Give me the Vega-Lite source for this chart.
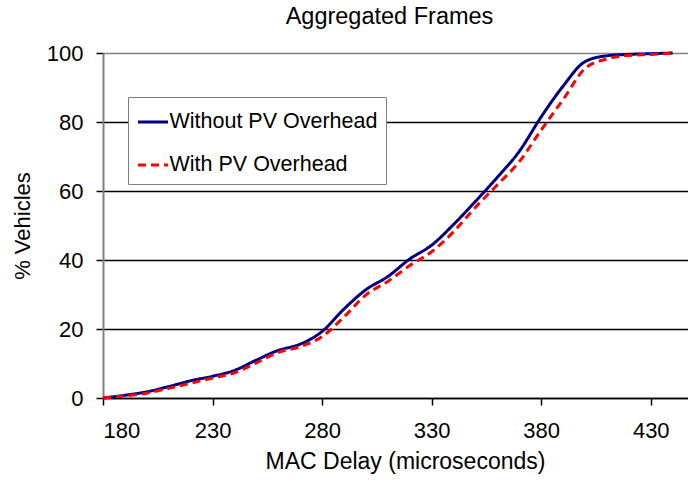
{
  "$schema": "https://vega.github.io/schema/vega-lite/v6.json",
  "width": 585,
  "height": 345,
  "autosize": {"type": "none"},
  "padding": {"left": 103, "top": 53, "right": 0, "bottom": 83},
  "background": "white",
  "title": {"text": "Aggregated Frames", "fontSize": 23.5, "fontWeight": "normal", "font": "Liberation Sans", "color": "black", "anchor": "middle", "dx": -6, "baseline": "alphabetic", "offset": -5},
  "config": {"view": {"stroke": null}, "font": "Liberation Sans"},
  "data": {"values": [
    {"t":180,"s":"Without PV Overhead","v":0},
    {"t":190,"s":"Without PV Overhead","v":0.8},
    {"t":200,"s":"Without PV Overhead","v":1.8},
    {"t":210,"s":"Without PV Overhead","v":3.3},
    {"t":220,"s":"Without PV Overhead","v":5.0},
    {"t":230,"s":"Without PV Overhead","v":6.3},
    {"t":240,"s":"Without PV Overhead","v":8.0},
    {"t":250,"s":"Without PV Overhead","v":11.0},
    {"t":260,"s":"Without PV Overhead","v":13.8},
    {"t":270,"s":"Without PV Overhead","v":15.6},
    {"t":280,"s":"Without PV Overhead","v":19.3},
    {"t":290,"s":"Without PV Overhead","v":25.8},
    {"t":300,"s":"Without PV Overhead","v":31.4},
    {"t":310,"s":"Without PV Overhead","v":35.2},
    {"t":320,"s":"Without PV Overhead","v":40.3},
    {"t":330,"s":"Without PV Overhead","v":44.3},
    {"t":340,"s":"Without PV Overhead","v":50.3},
    {"t":350,"s":"Without PV Overhead","v":57.0},
    {"t":360,"s":"Without PV Overhead","v":64.0},
    {"t":370,"s":"Without PV Overhead","v":71.5},
    {"t":380,"s":"Without PV Overhead","v":81.5},
    {"t":390,"s":"Without PV Overhead","v":90.4},
    {"t":400,"s":"Without PV Overhead","v":97.5},
    {"t":410,"s":"Without PV Overhead","v":99.2},
    {"t":420,"s":"Without PV Overhead","v":99.6},
    {"t":430,"s":"Without PV Overhead","v":99.8},
    {"t":440,"s":"Without PV Overhead","v":100},
    {"t":180,"s":"With PV Overhead","v":0},
    {"t":190,"s":"With PV Overhead","v":0.6},
    {"t":200,"s":"With PV Overhead","v":1.4},
    {"t":210,"s":"With PV Overhead","v":2.8},
    {"t":220,"s":"With PV Overhead","v":4.3},
    {"t":230,"s":"With PV Overhead","v":5.8},
    {"t":240,"s":"With PV Overhead","v":7.3},
    {"t":250,"s":"With PV Overhead","v":10.2},
    {"t":260,"s":"With PV Overhead","v":13.2},
    {"t":270,"s":"With PV Overhead","v":14.9},
    {"t":280,"s":"With PV Overhead","v":17.8},
    {"t":290,"s":"With PV Overhead","v":23.5},
    {"t":300,"s":"With PV Overhead","v":29.9},
    {"t":310,"s":"With PV Overhead","v":33.8},
    {"t":320,"s":"With PV Overhead","v":38.4},
    {"t":330,"s":"With PV Overhead","v":42.4},
    {"t":340,"s":"With PV Overhead","v":48.2},
    {"t":350,"s":"With PV Overhead","v":55.3},
    {"t":360,"s":"With PV Overhead","v":61.8},
    {"t":370,"s":"With PV Overhead","v":68.5},
    {"t":380,"s":"With PV Overhead","v":77.7},
    {"t":390,"s":"With PV Overhead","v":86.5},
    {"t":400,"s":"With PV Overhead","v":95.5},
    {"t":410,"s":"With PV Overhead","v":98.3},
    {"t":420,"s":"With PV Overhead","v":99.3},
    {"t":430,"s":"With PV Overhead","v":99.6},
    {"t":440,"s":"With PV Overhead","v":100}
  ]},
  "mark": {"type": "line", "strokeWidth": 3, "interpolate": "monotone"},
  "encoding": {
    "x": {"field": "t", "type": "quantitative",
      "scale": {"domain": [180, 447], "nice": false, "zero": false},
      "axis": {"values": [180, 230, 280, 330, 380, 430], "grid": false, "domainColor": "black", "domainWidth": 1.5, "tickColor": "black", "tickWidth": 1.5, "tickSize": 7, "labelFontSize": 22, "labelColor": "black", "labelPadding": 15, "labelFont": "Liberation Sans", "title": "MAC Delay (microseconds)", "titleFontSize": 23, "titleFontWeight": "normal", "titleColor": "black", "titleFont": "Liberation Sans", "titlePadding": 9, "titleX": 302}},
    "y": {"field": "v", "type": "quantitative",
      "scale": {"domain": [0, 100], "nice": false},
      "axis": {"values": [0, 20, 40, 60, 80, 100], "grid": true, "gridColor": {"condition": {"test": "datum.value == 100", "value": "#808080"}, "value": "black"}, "gridWidth": 1.5, "domainColor": "#808080", "domainWidth": 2, "tickColor": "black", "tickWidth": 1.5, "tickSize": 7, "labelFontSize": 22, "labelColor": "black", "labelPadding": 13, "labelFont": "Liberation Sans", "title": "% Vehicles", "titleFontSize": 22, "titleFontWeight": "normal", "titleColor": "black", "titleFont": "Liberation Sans", "titlePadding": 12}},
    "color": {"field": "s", "type": "nominal",
      "scale": {"domain": ["Without PV Overhead", "With PV Overhead"], "range": ["#000080", "#FF0000"]},
      "legend": {"title": null, "orient": "none", "legendX": 25, "legendY": 44, "fillColor": "white", "strokeColor": "#808080", "padding": 8.5, "labelFontSize": 21.5, "labelLimit": 400, "labelColor": "black", "labelFont": "Liberation Sans", "symbolType": "stroke", "symbolSize": 900, "symbolStrokeWidth": 3, "rowPadding": 16, "labelOffset": 0}},
    "strokeDash": {"field": "s", "type": "nominal",
      "scale": {"domain": ["Without PV Overhead", "With PV Overhead"], "range": [[1, 0], [8, 5]]},
      "legend": null}
  }
}
